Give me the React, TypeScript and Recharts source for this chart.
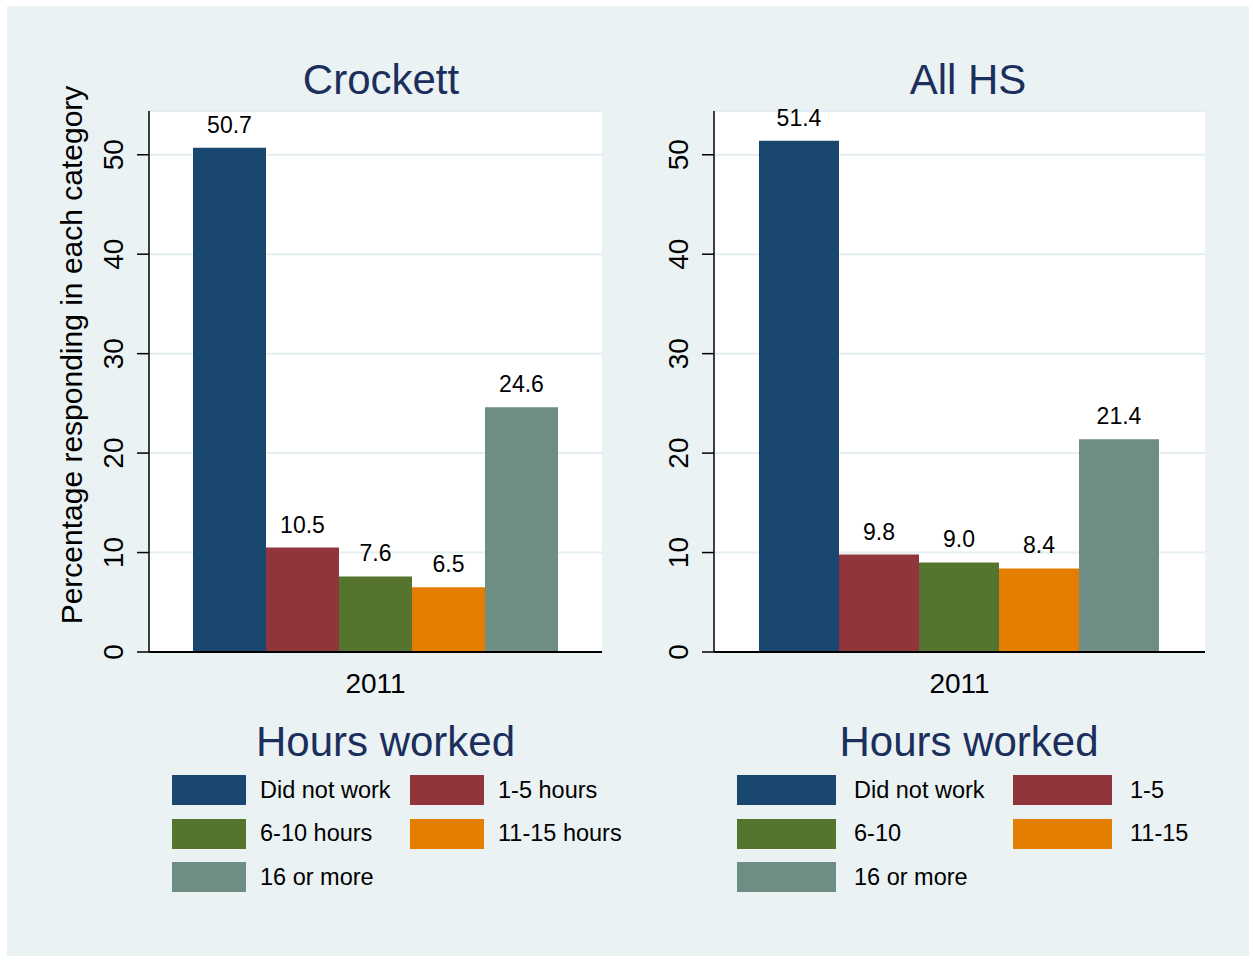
import { Bar, BarChart, CartesianGrid, LabelList, XAxis, YAxis } from "recharts";

const categories = ["2011"];
const seriesKeys = ["s0", "s1", "s2", "s3", "s4"];
const seriesColors = ["#1a476f", "#90353b", "#55752f", "#e37e00", "#6e8e84"];
const crockettValues = [50.7, 10.5, 7.6, 6.5, 24.6];
const allHsValues = [51.4, 9.8, 9.0, 8.4, 21.4];
const crockettLegend = ["Did not work", "1-5 hours", "6-10 hours", "11-15 hours", "16 or more"];
const allHsLegend = ["Did not work", "1-5", "6-10", "11-15", "16 or more"];
const yTicks = [0, 10, 20, 30, 40, 50];

const FONT = '"Liberation Sans", Arial, sans-serif';
const BG = "#eaf2f3";
const NAVY = "#1c2f5c";

function buildRows(values: number[]) {
  return categories.map((c) => {
    const row: Record<string, string | number> = { year: c };
    seriesKeys.forEach((k, i) => (row[k] = values[i]));
    return row;
  });
}

function YTick({ x, y, payload }: any) {
  return (
    <text
      transform={`translate(${x - 12},${y}) rotate(-90)`}
      textAnchor="middle"
      fontSize={28}
      fontFamily={FONT}
      fill="#000"
    >
      {payload.value}
    </text>
  );
}

interface PanelProps {
  title: string;
  values: number[];
  legend: string[];
  left: number;
  width: number;
  gap: number;
  titleX: number;
  legendTitleX: number;
  swatchWidth: number;
  textGap: number;
  col2Offset: number;
}

function Panel(p: PanelProps) {
  const data = buildRows(p.values);
  const legendLeft = p.left + 149 + 23;
  return (
    <>
      <div
        style={{
          position: "absolute",
          left: p.titleX - 200,
          width: 400,
          top: 80 - 21,
          textAlign: "center",
          fontSize: 42,
          lineHeight: "42px",
          color: NAVY,
          fontFamily: FONT,
        }}
      >
        {p.title}
      </div>
      <div style={{ position: "absolute", left: p.left, top: 0 }}>
        <BarChart
          width={p.width}
          height={700}
          data={data}
          margin={{ top: 111, right: 18, left: 0, bottom: 0 }}
          barCategoryGap={p.gap}
          barGap={0}
        >
          <CartesianGrid vertical={false} stroke="#e4eef0" strokeWidth={2} fill="#ffffff" />
          <XAxis
            dataKey="year"
            tickLine={false}
            axisLine={{ stroke: "#000", strokeWidth: 2 }}
            tick={{ fontSize: 28, fill: "#000", fontFamily: FONT }}
            tickMargin={15}
            height={48}
          />
          <YAxis
            width={149}
            domain={[0, 54.4]}
            ticks={yTicks}
            tickSize={12}
            tickLine={{ stroke: "#000", strokeWidth: 1.5 }}
            axisLine={{ stroke: "#000", strokeWidth: 1.5 }}
            tick={<YTick />}
            allowDataOverflow
          />
          {seriesKeys.map((k, i) => (
            <Bar key={k} dataKey={k} fill={seriesColors[i]} isAnimationActive={false}>
              <LabelList
                dataKey={k}
                position="top"
                offset={15}
                formatter={(v: any) => Number(v).toFixed(1)}
                fill="#000"
                fontSize={23}
                fontFamily={FONT}
              />
            </Bar>
          ))}
        </BarChart>
      </div>
      <div
        style={{
          position: "absolute",
          left: p.legendTitleX - 250,
          width: 500,
          top: 742 - 21,
          textAlign: "center",
          fontSize: 42,
          lineHeight: "42px",
          color: NAVY,
          fontFamily: FONT,
        }}
      >
        Hours worked
      </div>
      {p.legend.map((label, i) => {
        const col = i % 2;
        const row = Math.floor(i / 2);
        const x = legendLeft + col * p.col2Offset;
        const y = 775 + row * 43.5;
        return (
          <div
            key={label}
            style={{ position: "absolute", left: x, top: y, height: 30, display: "flex", alignItems: "center" }}
          >
            <div style={{ width: p.swatchWidth, height: 30, background: seriesColors[i] }} />
            <div
              style={{
                marginLeft: p.textGap,
                fontSize: 23.5,
                fontFamily: FONT,
                color: "#000",
                whiteSpace: "nowrap",
              }}
            >
              {label}
            </div>
          </div>
        );
      })}
    </>
  );
}

export default function App() {
  return (
    <div style={{ position: "absolute", left: 0, top: 0, width: 1253, height: 961, background: "#fff" }}>
      <div style={{ position: "absolute", left: 7, top: 6, width: 1242, height: 950, background: BG }} />
      <div
        style={{
          position: "absolute",
          left: 72,
          top: 355,
          transform: "translate(-50%, -50%) rotate(-90deg)",
          fontSize: 30,
          fontFamily: FONT,
          color: "#000",
          whiteSpace: "nowrap",
          lineHeight: "30px",
        }}
      >
        Percentage responding in each category
      </div>
      <Panel
        title="Crockett"
        values={crockettValues}
        legend={crockettLegend}
        left={0}
        width={620}
        gap={44}
        titleX={381}
        legendTitleX={385.5}
        swatchWidth={74}
        textGap={14}
        col2Offset={238}
      />
      <Panel
        title="All HS"
        values={allHsValues}
        legend={allHsLegend}
        left={565}
        width={658}
        gap={45}
        titleX={968}
        legendTitleX={969}
        swatchWidth={99}
        textGap={18}
        col2Offset={276}
      />
    </div>
  );
}
